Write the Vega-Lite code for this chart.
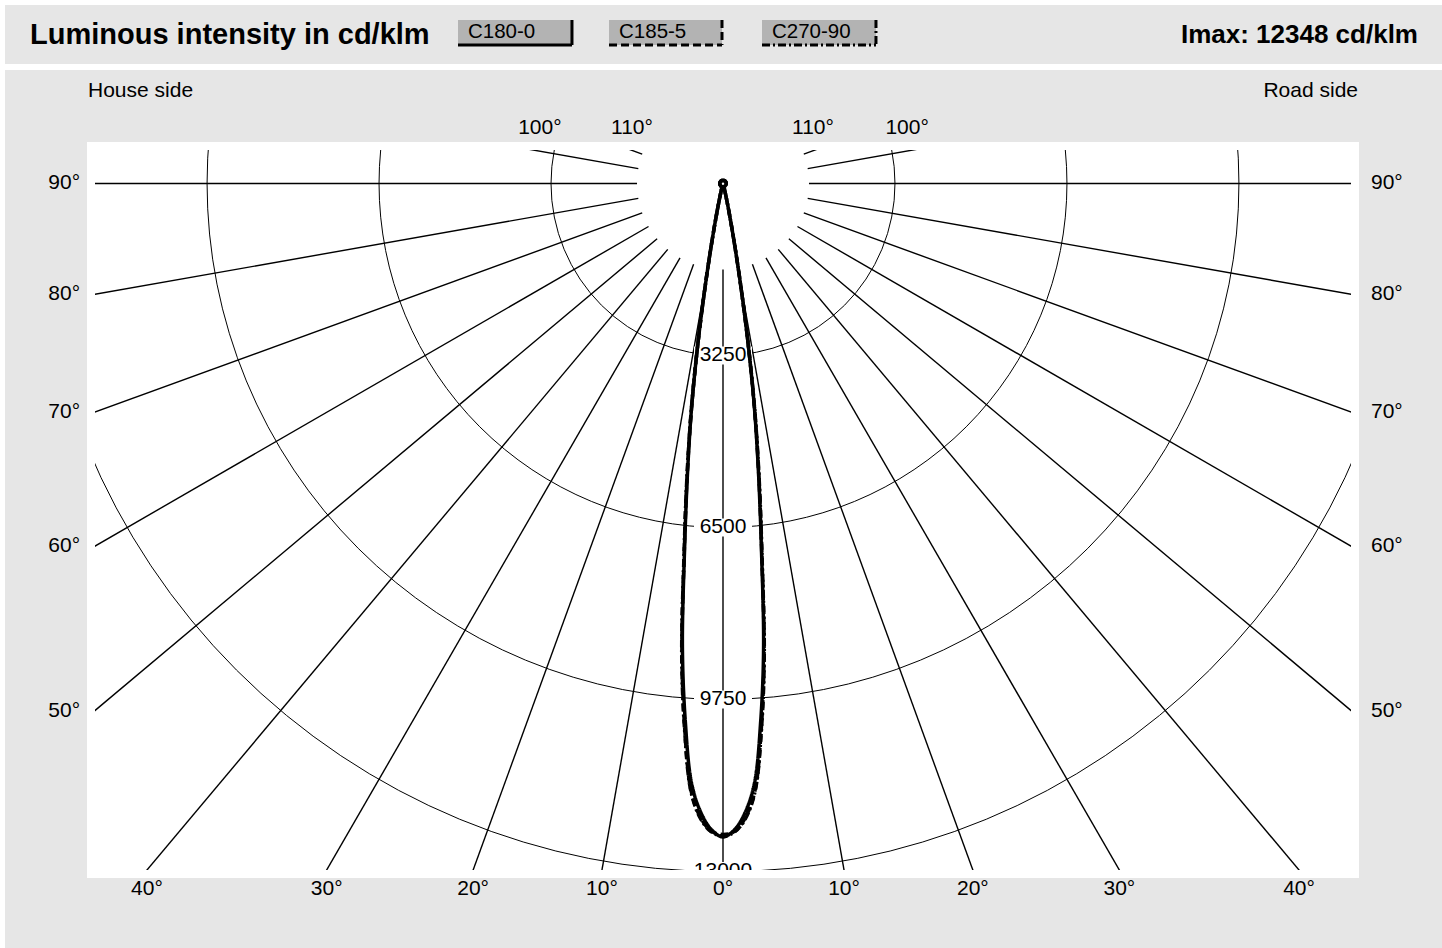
{
  "$schema": "https://vega.github.io/schema/vega-lite/v6.json",
  "width": 1256,
  "height": 720,
  "autosize": {"type": "none"},
  "padding": {"left": 95, "top": 150, "right": 91, "bottom": 78},
  "background": "#e6e6e6",
  "config": {
    "view": {"fill": "white", "stroke": "white", "strokeWidth": 16},
    "font": "Liberation Sans",
    "text": {"font": "Liberation Sans", "color": "black"}
  },
  "datasets": {
    "curves": [
      {"g": -180, "C180-0": 62, "C185-5": 62, "C270-90": 62},
      {"g": -135, "C180-0": 62, "C185-5": 62, "C270-90": 62},
      {"g": -90, "C180-0": 62, "C185-5": 62, "C270-90": 62},
      {"g": -45, "C180-0": 62, "C185-5": 62, "C270-90": 62},
      {"g": -20, "C180-0": 62, "C185-5": 62, "C270-90": 62},
      {"g": -15, "C180-0": 90, "C185-5": 90, "C270-90": 90},
      {"g": -14, "C180-0": 140, "C185-5": 140, "C270-90": 145},
      {"g": -13, "C180-0": 260, "C185-5": 260, "C270-90": 265},
      {"g": -12, "C180-0": 520, "C185-5": 520, "C270-90": 530},
      {"g": -11, "C180-0": 1000, "C185-5": 1000, "C270-90": 1010},
      {"g": -10, "C180-0": 1800, "C185-5": 1800, "C270-90": 1820},
      {"g": -9, "C180-0": 2950, "C185-5": 2950, "C270-90": 2980},
      {"g": -8, "C180-0": 4250, "C185-5": 4250, "C270-90": 4300},
      {"g": -7, "C180-0": 5500, "C185-5": 5550, "C270-90": 5600},
      {"g": -6, "C180-0": 6950, "C185-5": 7000, "C270-90": 7050},
      {"g": -5, "C180-0": 8800, "C185-5": 8900, "C270-90": 8950},
      {"g": -4, "C180-0": 10200, "C185-5": 10350, "C270-90": 10380},
      {"g": -3, "C180-0": 11350, "C185-5": 11500, "C270-90": 11520},
      {"g": -2, "C180-0": 11900, "C185-5": 12000, "C270-90": 12020},
      {"g": -1, "C180-0": 12220, "C185-5": 12250, "C270-90": 12260},
      {"g": 0, "C180-0": 12348, "C185-5": 12300, "C270-90": 12330},
      {"g": 1, "C180-0": 12220, "C185-5": 12250, "C270-90": 12260},
      {"g": 2, "C180-0": 11900, "C185-5": 12000, "C270-90": 12020},
      {"g": 3, "C180-0": 11350, "C185-5": 11500, "C270-90": 11520},
      {"g": 4, "C180-0": 10200, "C185-5": 10350, "C270-90": 10380},
      {"g": 5, "C180-0": 8800, "C185-5": 8900, "C270-90": 8950},
      {"g": 6, "C180-0": 6950, "C185-5": 7000, "C270-90": 7050},
      {"g": 7, "C180-0": 5500, "C185-5": 5550, "C270-90": 5600},
      {"g": 8, "C180-0": 4250, "C185-5": 4250, "C270-90": 4300},
      {"g": 9, "C180-0": 2950, "C185-5": 2950, "C270-90": 2980},
      {"g": 10, "C180-0": 1800, "C185-5": 1800, "C270-90": 1820},
      {"g": 11, "C180-0": 1000, "C185-5": 1000, "C270-90": 1010},
      {"g": 12, "C180-0": 520, "C185-5": 520, "C270-90": 530},
      {"g": 13, "C180-0": 260, "C185-5": 260, "C270-90": 265},
      {"g": 14, "C180-0": 140, "C185-5": 140, "C270-90": 145},
      {"g": 15, "C180-0": 90, "C185-5": 90, "C270-90": 90},
      {"g": 20, "C180-0": 62, "C185-5": 62, "C270-90": 62},
      {"g": 45, "C180-0": 62, "C185-5": 62, "C270-90": 62},
      {"g": 90, "C180-0": 62, "C185-5": 62, "C270-90": 62},
      {"g": 135, "C180-0": 62, "C185-5": 62, "C270-90": 62},
      {"g": 180, "C180-0": 62, "C185-5": 62, "C270-90": 62}
    ],
    "spokes": [
      {"a": -110}, {"a": -100}, {"a": -90}, {"a": -80}, {"a": -70}, {"a": -60},
      {"a": -50}, {"a": -40}, {"a": -30}, {"a": -20}, {"a": -10}, {"a": 0},
      {"a": 10}, {"a": 20}, {"a": 30}, {"a": 40}, {"a": 50}, {"a": 60},
      {"a": 70}, {"a": 80}, {"a": 90}, {"a": 100}, {"a": 110}
    ],
    "rings": [
      {"r": 3250, "label": "3250"},
      {"r": 6500, "label": "6500"},
      {"r": 9750, "label": "9750"},
      {"r": 13000, "label": "13000"}
    ],
    "ticks": [
      {"side": "L", "t": "90°", "x": -12150, "y": 0},
      {"side": "L", "t": "80°", "x": -12150, "y": -2093},
      {"side": "L", "t": "70°", "x": -12150, "y": -4320},
      {"side": "L", "t": "60°", "x": -12150, "y": -6852},
      {"side": "L", "t": "50°", "x": -12150, "y": -9959},
      {"side": "R", "t": "90°", "x": 12245, "y": 0},
      {"side": "R", "t": "80°", "x": 12245, "y": -2093},
      {"side": "R", "t": "70°", "x": 12245, "y": -4320},
      {"side": "R", "t": "60°", "x": 12245, "y": -6852},
      {"side": "R", "t": "50°", "x": 12245, "y": -9959},
      {"side": "B", "t": "40°", "x": -10886, "y": -13332},
      {"side": "B", "t": "30°", "x": -7490, "y": -13332},
      {"side": "B", "t": "20°", "x": -4722, "y": -13332},
      {"side": "B", "t": "10°", "x": -2287, "y": -13332},
      {"side": "B", "t": "0°", "x": 0, "y": -13332},
      {"side": "B", "t": "10°", "x": 2287, "y": -13332},
      {"side": "B", "t": "20°", "x": 4722, "y": -13332},
      {"side": "B", "t": "30°", "x": 7490, "y": -13332},
      {"side": "B", "t": "40°", "x": 10886, "y": -13332},
      {"side": "B", "t": "100°", "x": -3460, "y": 1049},
      {"side": "B", "t": "110°", "x": -1720, "y": 1049},
      {"side": "B", "t": "110°", "x": 1700, "y": 1049},
      {"side": "B", "t": "100°", "x": 3480, "y": 1049}
    ],
    "legend": [
      {"s": "C180-0", "x": -5008, "x2": -2854},
      {"s": "C185-5", "x": -2154, "x2": -19},
      {"s": "C270-90", "x": 737, "x2": 2891}
    ]
  },
  "layer": [
    {
      "data": {"values": [{}]},
      "mark": {"type": "rule", "color": "white", "strokeWidth": 6},
      "encoding": {
        "x": {"datum": -15000, "type": "quantitative", "scale": {"domain": [-11868, 11868], "nice": false, "zero": false}, "axis": null},
        "x2": {"datum": 15000},
        "y": {"datum": 2202, "type": "quantitative", "scale": {"domain": [-12973, 633], "nice": false, "zero": false}, "axis": null}
      }
    },
    {
      "data": {"values": [{}]},
      "mark": {"type": "rule", "color": "white", "strokeWidth": 5},
      "encoding": {
        "x": {"datum": -15000, "type": "quantitative", "scale": {"domain": [-11868, 11868], "nice": false, "zero": false}, "axis": null},
        "x2": {"datum": 15000},
        "y": {"datum": 3420, "type": "quantitative", "scale": {"domain": [-12973, 633], "nice": false, "zero": false}, "axis": null}
      }
    },
    {
      "data": {"values": [{}]},
      "mark": {"type": "rule", "color": "white", "strokeWidth": 5},
      "encoding": {
        "x": {"datum": -13616, "type": "quantitative", "scale": {"domain": [-11868, 11868], "nice": false, "zero": false}, "axis": null},
        "y": {"datum": 4000, "type": "quantitative", "scale": {"domain": [-12973, 633], "nice": false, "zero": false}, "axis": null},
        "y2": {"datum": -15000}
      }
    },
    {
      "data": {"name": "rings"},
      "mark": {"type": "point", "shape": "circle", "filled": false, "color": "black", "strokeWidth": 1, "opacity": 1, "clip": true},
      "encoding": {
        "x": {"datum": 0, "type": "quantitative", "scale": {"domain": [-11868, 11868], "nice": false, "zero": false}, "axis": null},
        "y": {"datum": 0, "type": "quantitative", "scale": {"domain": [-12973, 633], "nice": false, "zero": false}, "axis": null},
        "size": {"field": "r", "type": "quantitative", "scale": {"type": "pow", "exponent": 2, "domain": [0, 13000], "range": [0, 1892870]}, "legend": null}
      }
    },
    {
      "data": {"name": "spokes"},
      "transform": [
        {"calculate": "1625*sin(datum.a*PI/180)", "as": "x"},
        {"calculate": "-1625*cos(datum.a*PI/180)", "as": "y"},
        {"calculate": "30000*sin(datum.a*PI/180)", "as": "xe"},
        {"calculate": "-30000*cos(datum.a*PI/180)", "as": "ye"}
      ],
      "mark": {"type": "rule", "color": "black", "strokeWidth": 1.4, "clip": true},
      "encoding": {
        "x": {"field": "x", "type": "quantitative", "scale": {"domain": [-11868, 11868], "nice": false, "zero": false}, "axis": null},
        "y": {"field": "y", "type": "quantitative", "scale": {"domain": [-12973, 633], "nice": false, "zero": false}, "axis": null},
        "x2": {"field": "xe"},
        "y2": {"field": "ye"}
      }
    },
    {
      "data": {"name": "rings"},
      "transform": [{"filter": "datum.r < 13000"}, {"calculate": "-datum.r", "as": "y"}],
      "mark": {"type": "point", "shape": "M-1,-0.31L1,-0.31L1,0.31L-1,0.31Z", "filled": true, "color": "white", "opacity": 1, "size": 3364, "clip": true},
      "encoding": {
        "x": {"datum": 0, "type": "quantitative", "scale": {"domain": [-11868, 11868], "nice": false, "zero": false}, "axis": null},
        "y": {"field": "y", "type": "quantitative", "scale": {"domain": [-12973, 633], "nice": false, "zero": false}, "axis": null}
      }
    },
    {
      "data": {"name": "rings"},
      "transform": [{"filter": "datum.r >= 13000"}, {"calculate": "-datum.r", "as": "y"}],
      "mark": {"type": "point", "shape": "M-1,-0.26L1,-0.26L1,0.26L-1,0.26Z", "filled": true, "color": "white", "opacity": 1, "size": 5184, "clip": true},
      "encoding": {
        "x": {"datum": 0, "type": "quantitative", "scale": {"domain": [-11868, 11868], "nice": false, "zero": false}, "axis": null},
        "y": {"field": "y", "type": "quantitative", "scale": {"domain": [-12973, 633], "nice": false, "zero": false}, "axis": null}
      }
    },
    {
      "data": {"name": "rings"},
      "transform": [{"calculate": "-datum.r", "as": "y"}],
      "mark": {"type": "text", "fontSize": 21, "align": "center", "baseline": "middle", "clip": true},
      "encoding": {
        "x": {"datum": 0, "type": "quantitative", "scale": {"domain": [-11868, 11868], "nice": false, "zero": false}, "axis": null},
        "y": {"field": "y", "type": "quantitative", "scale": {"domain": [-12973, 633], "nice": false, "zero": false}, "axis": null},
        "text": {"field": "label"}
      }
    },
    {
      "data": {"name": "curves"},
      "transform": [
        {"fold": ["C180-0", "C185-5", "C270-90"], "as": ["s", "I"]},
        {"calculate": "datum.I*sin(datum.g*PI/180)", "as": "x"},
        {"calculate": "-datum.I*cos(datum.g*PI/180)", "as": "y"}
      ],
      "mark": {"type": "line", "color": "black", "strokeWidth": 3.5, "interpolate": "catmull-rom", "clip": true},
      "encoding": {
        "x": {"field": "x", "type": "quantitative", "scale": {"domain": [-11868, 11868], "nice": false, "zero": false}, "axis": null},
        "y": {"field": "y", "type": "quantitative", "scale": {"domain": [-12973, 633], "nice": false, "zero": false}, "axis": null},
        "order": {"field": "g", "type": "quantitative"},
        "strokeDash": {"field": "s", "type": "nominal", "scale": {"domain": ["C180-0", "C185-5", "C270-90"], "range": [[1, 0], [8, 4], [8, 3, 2, 3]]}, "legend": null}
      }
    },
    {
      "data": {"name": "ticks"},
      "transform": [{"filter": "datum.side == 'L'"}],
      "mark": {"type": "text", "fontSize": 21, "align": "right", "baseline": "middle"},
      "encoding": {
        "x": {"field": "x", "type": "quantitative", "scale": {"domain": [-11868, 11868], "nice": false, "zero": false}, "axis": null},
        "y": {"field": "y", "type": "quantitative", "scale": {"domain": [-12973, 633], "nice": false, "zero": false}, "axis": null},
        "text": {"field": "t"}
      }
    },
    {
      "data": {"name": "ticks"},
      "transform": [{"filter": "datum.side == 'R'"}],
      "mark": {"type": "text", "fontSize": 21, "align": "left", "baseline": "middle"},
      "encoding": {
        "x": {"field": "x", "type": "quantitative", "scale": {"domain": [-11868, 11868], "nice": false, "zero": false}, "axis": null},
        "y": {"field": "y", "type": "quantitative", "scale": {"domain": [-12973, 633], "nice": false, "zero": false}, "axis": null},
        "text": {"field": "t"}
      }
    },
    {
      "data": {"name": "ticks"},
      "transform": [{"filter": "datum.side == 'B'"}],
      "mark": {"type": "text", "fontSize": 21, "align": "center", "baseline": "middle"},
      "encoding": {
        "x": {"field": "x", "type": "quantitative", "scale": {"domain": [-11868, 11868], "nice": false, "zero": false}, "axis": null},
        "y": {"field": "y", "type": "quantitative", "scale": {"domain": [-12973, 633], "nice": false, "zero": false}, "axis": null},
        "text": {"field": "t"}
      }
    },
    {
      "data": {"values": [{}]},
      "mark": {"type": "text", "fontSize": 21, "align": "left", "baseline": "middle", "text": "House side"},
      "encoding": {
        "x": {"datum": -12000, "type": "quantitative", "scale": {"domain": [-11868, 11868], "nice": false, "zero": false}, "axis": null},
        "y": {"datum": 1748, "type": "quantitative", "scale": {"domain": [-12973, 633], "nice": false, "zero": false}, "axis": null}
      }
    },
    {
      "data": {"values": [{}]},
      "mark": {"type": "text", "fontSize": 21, "align": "right", "baseline": "middle", "text": "Road side"},
      "encoding": {
        "x": {"datum": 12000, "type": "quantitative", "scale": {"domain": [-11868, 11868], "nice": false, "zero": false}, "axis": null},
        "y": {"datum": 1748, "type": "quantitative", "scale": {"domain": [-12973, 633], "nice": false, "zero": false}, "axis": null}
      }
    },
    {
      "data": {"values": [{}]},
      "mark": {"type": "text", "fontSize": 29, "fontWeight": "bold", "align": "left", "baseline": "middle", "text": "Luminous intensity in cd/klm"},
      "encoding": {
        "x": {"datum": -13096, "type": "quantitative", "scale": {"domain": [-11868, 11868], "nice": false, "zero": false}, "axis": null},
        "y": {"datum": 2806, "type": "quantitative", "scale": {"domain": [-12973, 633], "nice": false, "zero": false}, "axis": null}
      }
    },
    {
      "data": {"values": [{}]},
      "mark": {"type": "text", "fontSize": 26, "fontWeight": "bold", "align": "right", "baseline": "middle", "text": "Imax: 12348 cd/klm"},
      "encoding": {
        "x": {"datum": 13134, "type": "quantitative", "scale": {"domain": [-11868, 11868], "nice": false, "zero": false}, "axis": null},
        "y": {"datum": 2806, "type": "quantitative", "scale": {"domain": [-12973, 633], "nice": false, "zero": false}, "axis": null}
      }
    },
    {
      "data": {"name": "legend"},
      "mark": {"type": "rect", "color": "#b3b3b3"},
      "encoding": {
        "x": {"field": "x", "type": "quantitative", "scale": {"domain": [-11868, 11868], "nice": false, "zero": false}, "axis": null},
        "x2": {"field": "x2"},
        "y": {"datum": 3090, "type": "quantitative", "scale": {"domain": [-12973, 633], "nice": false, "zero": false}, "axis": null},
        "y2": {"datum": 2617}
      }
    },
    {
      "data": {"name": "legend"},
      "mark": {"type": "text", "fontSize": 20.5, "align": "left", "baseline": "middle", "dx": 10},
      "encoding": {
        "x": {"field": "x", "type": "quantitative", "scale": {"domain": [-11868, 11868], "nice": false, "zero": false}, "axis": null},
        "y": {"datum": 2862, "type": "quantitative", "scale": {"domain": [-12973, 633], "nice": false, "zero": false}, "axis": null},
        "text": {"field": "s"}
      }
    },
    {
      "data": {"name": "legend"},
      "mark": {"type": "rule", "color": "black", "strokeWidth": 3},
      "encoding": {
        "x": {"field": "x", "type": "quantitative", "scale": {"domain": [-11868, 11868], "nice": false, "zero": false}, "axis": null},
        "x2": {"field": "x2"},
        "y": {"datum": 2617, "type": "quantitative", "scale": {"domain": [-12973, 633], "nice": false, "zero": false}, "axis": null},
        "strokeDash": {"field": "s", "type": "nominal", "legend": null}
      }
    },
    {
      "data": {"name": "legend"},
      "mark": {"type": "rule", "color": "black", "strokeWidth": 3},
      "encoding": {
        "x": {"field": "x2", "type": "quantitative", "scale": {"domain": [-11868, 11868], "nice": false, "zero": false}, "axis": null},
        "y": {"datum": 3090, "type": "quantitative", "scale": {"domain": [-12973, 633], "nice": false, "zero": false}, "axis": null},
        "y2": {"datum": 2617},
        "strokeDash": {"field": "s", "type": "nominal", "legend": null}
      }
    }
  ]
}
